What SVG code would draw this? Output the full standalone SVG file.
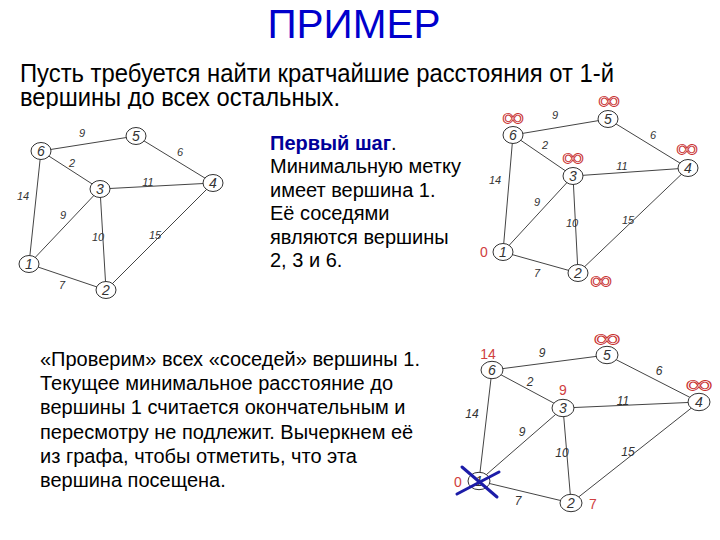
<svg xmlns="http://www.w3.org/2000/svg" width="720" height="540" viewBox="0 0 720 540">
<defs>
<style>
.edge{stroke:#444;stroke-width:1;fill:none}
.node{fill:#fff;stroke:#333;stroke-width:1}
.nt{font-family:"Liberation Sans",Arial,sans-serif;font-style:italic;font-size:14px;fill:#333;text-anchor:middle}
.el{font-family:"Liberation Sans",Arial,sans-serif;font-style:italic;font-size:11px;fill:#333;text-anchor:middle}
.el3{font-family:"Liberation Sans",Arial,sans-serif;font-style:italic;font-size:12px;fill:#333;text-anchor:middle}
.red{font-family:"Liberation Sans",Arial,sans-serif;font-size:14px;fill:#d04040;text-anchor:middle}
.inf{font-family:"Liberation Sans",Arial,sans-serif;font-size:26px;fill:#fff;stroke:#c83030;stroke-width:0.9;text-anchor:middle}
.body{font-family:"Liberation Sans",Arial,sans-serif;font-size:20px;fill:#000}
</style>
<clipPath id="introClip"><rect x="0" y="50" width="720" height="59"/></clipPath>
</defs>
<rect width="720" height="540" fill="#fff"/>
<text x="354" y="37.5" font-family="Liberation Sans, Arial, sans-serif" font-size="40.5" fill="#0000cc" text-anchor="middle">ПРИМЕР</text>
<g clip-path="url(#introClip)" font-family="Liberation Sans, Arial, sans-serif" font-size="25" fill="#000">
<text x="20" y="82" textLength="594" lengthAdjust="spacingAndGlyphs">Пусть требуется найти кратчайшие расстояния от 1-й</text>
<text x="20" y="106" textLength="320" lengthAdjust="spacingAndGlyphs">вершины до всех остальных.</text>
</g>
<g id="step-text" class="body">
<text x="270" y="150"><tspan font-weight="bold" fill="#000099">Первый шаг</tspan>.</text>
<text x="270" y="173.4">Минимальную метку</text>
<text x="270" y="196.8">имеет вершина 1.</text>
<text x="270" y="220.2">Её соседями</text>
<text x="270" y="243.6">являются вершины</text>
<text x="270" y="267">2, 3 и 6.</text>
</g>
<g id="check-text" class="body">
<text x="40" y="366">«Проверим» всех «соседей» вершины 1.</text>
<text x="40" y="390">Текущее минимальное расстояние до</text>
<text x="40" y="414">вершины 1 считается окончательным и</text>
<text x="40" y="438.5">пересмотру не подлежит. Вычеркнем её</text>
<text x="40" y="462.5">из графа, чтобы отметить, что эта</text>
<text x="40" y="486.5">вершина посещена.</text>
</g>
<!-- Graph 1 -->
<g id="g1-edges" class="edge">
<line x1="41" y1="151" x2="136" y2="136"/>
<line x1="136" y1="136" x2="213" y2="183"/>
<line x1="41" y1="151" x2="100" y2="189"/>
<line x1="100" y1="189" x2="213" y2="183"/>
<line x1="41" y1="151" x2="29" y2="264"/>
<line x1="29" y1="264" x2="100" y2="189"/>
<line x1="100" y1="189" x2="106" y2="290"/>
<line x1="29" y1="264" x2="106" y2="290"/>
<line x1="106" y1="290" x2="213" y2="183"/>
</g>
<g id="g1-edge-labels" class="el">
<text x="82" y="137">9</text><text x="72" y="167">2</text><text x="180" y="156">6</text>
<text x="148" y="186">11</text><text x="23" y="200">14</text><text x="63" y="219">9</text>
<text x="98" y="241">10</text><text x="155" y="239">15</text><text x="62" y="289">7</text>
</g>
<g id="g1-n1"><ellipse class="node" cx="29" cy="264" rx="10" ry="8.5"/><text class="nt" x="29" y="269">1</text></g>
<g id="g1-n2"><ellipse class="node" cx="106" cy="290" rx="10" ry="8.5"/><text class="nt" x="106" y="295">2</text></g>
<g id="g1-n3"><ellipse class="node" cx="100" cy="189" rx="10" ry="8.5"/><text class="nt" x="100" y="194">3</text></g>
<g id="g1-n4"><ellipse class="node" cx="213" cy="183" rx="10" ry="8.5"/><text class="nt" x="213" y="188">4</text></g>
<g id="g1-n5"><ellipse class="node" cx="136" cy="136" rx="10" ry="8.5"/><text class="nt" x="136" y="141">5</text></g>
<g id="g1-n6"><ellipse class="node" cx="41" cy="151" rx="10" ry="8.5"/><text class="nt" x="41" y="156">6</text></g>
<!-- Graph 2 -->
<g id="g2-edges" class="edge">
<line x1="513" y1="135" x2="608" y2="119"/>
<line x1="608" y1="119" x2="688" y2="168"/>
<line x1="513" y1="135" x2="573" y2="176"/>
<line x1="573" y1="176" x2="688" y2="168"/>
<line x1="513" y1="135" x2="503" y2="252"/>
<line x1="503" y1="252" x2="573" y2="176"/>
<line x1="573" y1="176" x2="578" y2="273"/>
<line x1="503" y1="252" x2="578" y2="273"/>
<line x1="578" y1="273" x2="688" y2="168"/>
</g>
<g id="g2-edge-labels" class="el">
<text x="555" y="119">9</text><text x="545" y="149">2</text><text x="653" y="139">6</text>
<text x="622" y="170">11</text><text x="495" y="184">14</text><text x="537" y="206">9</text>
<text x="572" y="227">10</text><text x="628" y="224">15</text><text x="537" y="277">7</text>
</g>
<g id="g2-n1"><ellipse class="node" cx="503" cy="252" rx="10" ry="8.5"/><text class="nt" x="503" y="257">1</text></g>
<g id="g2-n2"><ellipse class="node" cx="578" cy="273" rx="10" ry="8.5"/><text class="nt" x="578" y="278">2</text></g>
<g id="g2-n3"><ellipse class="node" cx="573" cy="176" rx="10" ry="8.5"/><text class="nt" x="573" y="181">3</text></g>
<g id="g2-n4"><ellipse class="node" cx="688" cy="168" rx="10" ry="8.5"/><text class="nt" x="688" y="173">4</text></g>
<g id="g2-n5"><ellipse class="node" cx="608" cy="119" rx="10" ry="8.5"/><text class="nt" x="608" y="124">5</text></g>
<g id="g2-n6"><ellipse class="node" cx="513" cy="135" rx="10" ry="8.5"/><text class="nt" x="513" y="140">6</text></g>
<g id="g2-marks">
<text class="inf" x="513" y="125.6" textLength="22" lengthAdjust="spacingAndGlyphs">∞</text>
<text class="inf" x="609" y="108.6" textLength="22" lengthAdjust="spacingAndGlyphs">∞</text>
<text class="inf" x="573" y="165.6" textLength="22" lengthAdjust="spacingAndGlyphs">∞</text>
<text class="inf" x="687" y="156.6" textLength="22" lengthAdjust="spacingAndGlyphs">∞</text>
<text class="inf" x="601" y="288.6" textLength="22" lengthAdjust="spacingAndGlyphs">∞</text>
<text class="red" x="484" y="257">0</text>
</g>
<!-- Graph 3 -->
<g id="g3-edges" class="edge">
<line x1="492" y1="370" x2="607" y2="355"/>
<line x1="607" y1="355" x2="699" y2="402"/>
<line x1="492" y1="370" x2="563" y2="408"/>
<line x1="563" y1="408" x2="699" y2="402"/>
<line x1="492" y1="370" x2="479" y2="481"/>
<line x1="479" y1="481" x2="563" y2="408"/>
<line x1="563" y1="408" x2="571" y2="503"/>
<line x1="479" y1="481" x2="571" y2="503"/>
<line x1="571" y1="503" x2="699" y2="402"/>
</g>
<g id="g3-edge-labels" class="el3">
<text x="542" y="357">9</text><text x="530" y="386">2</text><text x="659" y="375">6</text>
<text x="623" y="405">11</text><text x="472" y="418">14</text><text x="522" y="436">9</text>
<text x="562" y="457">10</text><text x="628" y="456">15</text><text x="518" y="505">7</text>
</g>
<g id="g3-n1"><ellipse class="node" cx="479" cy="481" rx="11" ry="8.7"/><text class="nt" x="479" y="486" font-size="15">1</text></g>
<g id="g3-n2"><ellipse class="node" cx="571" cy="503" rx="11" ry="8.7"/><text class="nt" x="571" y="508" font-size="15">2</text></g>
<g id="g3-n3"><ellipse class="node" cx="563" cy="408" rx="11" ry="8.7"/><text class="nt" x="563" y="413" font-size="15">3</text></g>
<g id="g3-n4"><ellipse class="node" cx="699" cy="402" rx="11" ry="8.7"/><text class="nt" x="699" y="407" font-size="15">4</text></g>
<g id="g3-n5"><ellipse class="node" cx="607" cy="355" rx="11" ry="8.7"/><text class="nt" x="607" y="360" font-size="15">5</text></g>
<g id="g3-n6"><ellipse class="node" cx="492" cy="370" rx="11" ry="8.7"/><text class="nt" x="492" y="375" font-size="15">6</text></g>
<g id="g3-marks">
<text class="inf" x="607" y="347" font-size="30" textLength="27" lengthAdjust="spacingAndGlyphs">∞</text>
<text class="inf" x="699" y="393" font-size="30" textLength="27" lengthAdjust="spacingAndGlyphs">∞</text>
<text class="red" x="488" y="359" font-size="15">14</text>
<text class="red" x="563" y="395" font-size="15">9</text>
<text class="red" x="458" y="487" font-size="15">0</text>
<text class="red" x="593" y="509" font-size="15">7</text>
</g>
<g id="g3-cross" stroke="#1c1ca8" stroke-width="3" stroke-linecap="round">
<line x1="462" y1="467" x2="497" y2="497"/>
<line x1="457" y1="494" x2="499" y2="472"/>
</g>
</svg>
